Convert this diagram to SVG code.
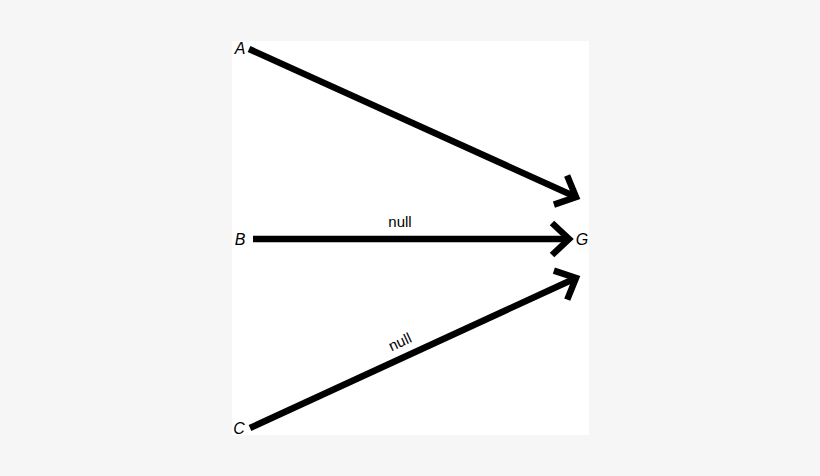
<svg xmlns="http://www.w3.org/2000/svg" width="820" height="476" viewBox="0 0 820 476">
<style>
.node{font-family:"Liberation Sans",Arial,sans-serif;font-size:16px;font-style:italic;fill:#000}
.lbl{font-family:"Liberation Sans",Arial,sans-serif;font-size:15px;fill:#000}
.edge{stroke:#000;stroke-width:6.5;fill:none;marker-end:url(#chev)}
</style>
<defs>
<marker id="chev" markerUnits="userSpaceOnUse" viewBox="-24 -20 30 40" refX="0" refY="0" markerWidth="30" markerHeight="40" orient="auto">
<path d="M-17,-16 L0,0 L-17,16" fill="none" stroke="#000" stroke-width="6.5" stroke-linejoin="miter"/>
</marker>
</defs>
<rect x="0" y="0" width="820" height="476" fill="#f6f6f6"/>
<rect x="232" y="41" width="357" height="394" fill="#ffffff"/>
<g id="connectors">
<line class="edge" x1="249" y1="49" x2="576" y2="197"/>
<line class="edge" x1="253" y1="239" x2="569" y2="239"/>
<line class="edge" x1="250" y1="428" x2="576" y2="278"/>
</g>
<g id="labels">
<text class="lbl" x="400" y="227" text-anchor="middle">null</text>
<text class="lbl" x="400" y="347" text-anchor="middle" transform="rotate(-24.7 400 342)">null</text>
</g>
<g id="A"><text class="node" x="240" y="54" text-anchor="middle">A</text></g>
<g id="B"><text class="node" x="240" y="245" text-anchor="middle">B</text></g>
<g id="C"><text class="node" x="239" y="434" text-anchor="middle">C</text></g>
<g id="G"><text class="node" x="582" y="245" text-anchor="middle">G</text></g>
</svg>
